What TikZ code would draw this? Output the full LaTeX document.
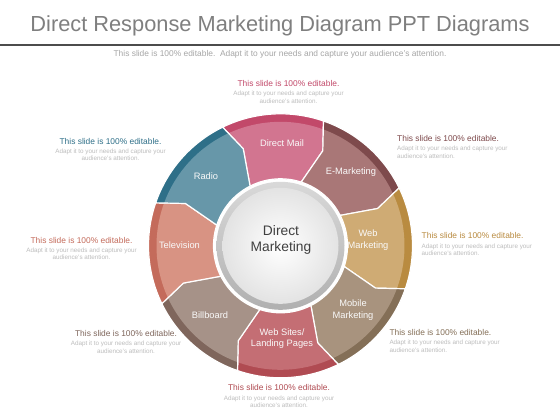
\documentclass[tikz,border=0pt]{standalone}
\usepackage{fontspec}
\setmainfont{Liberation Sans}
\usetikzlibrary{positioning}

\definecolor{mailfill}{HTML}{D27590}
\definecolor{mailrim}{HTML}{C2496A}
\definecolor{emailfill}{HTML}{A97777}
\definecolor{emailrim}{HTML}{7E4A4C}
\definecolor{webfill}{HTML}{CFAB74}
\definecolor{webrim}{HTML}{B98B40}
\definecolor{mobilefill}{HTML}{A8937E}
\definecolor{mobilerim}{HTML}{846F57}
\definecolor{sitesfill}{HTML}{C46E74}
\definecolor{sitesrim}{HTML}{B04B52}
\definecolor{boardfill}{HTML}{A69288}
\definecolor{boardrim}{HTML}{7F665C}
\definecolor{tvfill}{HTML}{D89383}
\definecolor{tvrim}{HTML}{C46B5B}
\definecolor{radiofill}{HTML}{6797A9}
\definecolor{radiorim}{HTML}{2E6F88}
\definecolor{notegray}{HTML}{BDBDBD}
\definecolor{headgray}{HTML}{7F7F7F}

\tikzset{
  seglabel/.style={text=white!96!gray, font=\fontsize{9.3}{11.5}\selectfont, align=center},
  note/.style={font=\fontsize{6.3}{7.3}\selectfont, text=notegray, inner sep=0pt},
}
\newcommand{\notehead}[1]{{\fontsize{8.4}{9.4}\selectfont\color{#1}This slide is 100\% editable.}}

% one piece of the wheel: mid angle, fill, rim
\newcommand{\wheelseg}[3]{%
  \pgfmathsetmacro{\segR}{#1-22.5}%
  \pgfmathsetmacro{\segL}{#1+22.5}%
  \fill[#3] ({\segR+4.5}:67) -- ({\segR-1.5}:104) -- ({\segR+3.5}:132)
    arc[start angle=\segR+3.5, end angle=\segL+3.5, radius=132]
    -- ({\segL-1.5}:104) -- ({\segL+4.5}:67)
    arc[start angle=\segL+4.5, end angle=\segR+4.5, radius=67] -- cycle;
  \fill[#2] ({\segR+4.5}:67) -- ({\segR-1.5}:104) -- ({\segR+2.3}:124)
    arc[start angle=\segR+2.3, end angle=\segL+2.3, radius=124]
    -- ({\segL-1.5}:104) -- ({\segL+4.5}:67)
    arc[start angle=\segL+4.5, end angle=\segR+4.5, radius=67] -- cycle;
  \draw[white, line width=1.2pt, line join=round] ({\segR+4.5}:67) -- ({\segR-1.5}:104) -- ({\segR+3.5}:132)
    arc[start angle=\segR+3.5, end angle=\segL+3.5, radius=132]
    -- ({\segL-1.5}:104) -- ({\segL+4.5}:67)
    arc[start angle=\segL+4.5, end angle=\segR+4.5, radius=67] -- cycle;
}

\begin{document}
\begin{tikzpicture}[x=1pt,y=-1pt]
\fill[white] (0,0) rectangle (560,420);
\useasboundingbox (0,0) rectangle (560,420);

\node[text=headgray, font=\fontsize{21.8}{24}\selectfont, anchor=base] (title) at (280,31.5) {Direct Response Marketing Diagram PPT Diagrams};
\coordinate (rulel) at (0,45);
\coordinate (ruler) at (560,45);
\draw[line width=1.2pt, black!70] (rulel) -- (ruler);
\node[text=black!35, font=\fontsize{8.4}{9.4}\selectfont, anchor=base] (sub) at (280,57) {This slide is 100\% editable.\ \ Adapt it to your needs and capture your audience's attention.};

\begin{scope}[shift={(280.5,245.8)}, yscale=-1]
\wheelseg{90}{mailfill}{mailrim}
\wheelseg{45}{emailfill}{emailrim}
\wheelseg{0}{webfill}{webrim}
\wheelseg{-45}{mobilefill}{mobilerim}
\wheelseg{-90}{sitesfill}{sitesrim}
\wheelseg{-135}{boardfill}{boardrim}
\wheelseg{180}{tvfill}{tvrim}
\wheelseg{135}{radiofill}{radiorim}
\end{scope}

\shade[top color=gray!30, bottom color=gray!62] (280.5,245.8) circle[radius=64];
\shade[inner color=white, outer color=gray!22] (280.5,245.8) circle[radius=58];

\node[text=black!75, font=\fontsize{13.8}{15.5}\selectfont, align=center] (core) at (281,240) {Direct\\Marketing};

\node[seglabel] (mail) at (282,143) {Direct Mail};
\node[seglabel] (email) at (351,172) {E-Marketing};
\node[seglabel] (web) at (368,240) {Web\\Marketing};
\node[seglabel] (mobile) at (353,310) {Mobile\\Marketing};
\node[seglabel] (sites) at (282,338.5) {Web Sites/\\Landing Pages};
\node[seglabel] (board) at (210,315) {Billboard};
\node[seglabel] (tv) at (179.5,245) {Television};
\node[seglabel] (radio) at (206,176) {Radio};

\node[note, align=center, anchor=north] (n1) at (288.5,80.2) {\notehead{mailrim}\\[2pt] Adapt it to your needs and capture your\\ audience's attention.};
\node[note, align=left, anchor=north west] (n2) at (397,135.2) {\notehead{emailrim}\\[2pt] Adapt it to your needs and capture your\\ audience's attention.};
\node[note, align=left, anchor=north west] (n3) at (421.5,232.6) {\notehead{webrim}\\[2pt] Adapt it to your needs and capture your\\ audience's attention.};
\node[note, align=left, anchor=north west] (n4) at (389.3,329.2) {\notehead{mobilerim}\\[2pt] Adapt it to your needs and capture your\\ audience's attention.};
\node[note, align=center, anchor=north] (n5) at (279,384.6) {\notehead{sitesrim}\\[2pt] Adapt it to your needs and capture your\\ audience's attention.};
\node[note, align=center, anchor=north] (n6) at (126,330.2) {\notehead{boardrim}\\[2pt] Adapt it to your needs and capture your\\ audience's attention.};
\node[note, align=center, anchor=north] (n7) at (81.5,236.9) {\notehead{tvrim}\\[2pt] Adapt it to your needs and capture your\\ audience's attention.};
\node[note, align=center, anchor=north] (n8) at (110.5,137.9) {\notehead{radiorim}\\[2pt] Adapt it to your needs and capture your\\ audience's attention.};

\end{tikzpicture}
\end{document}
